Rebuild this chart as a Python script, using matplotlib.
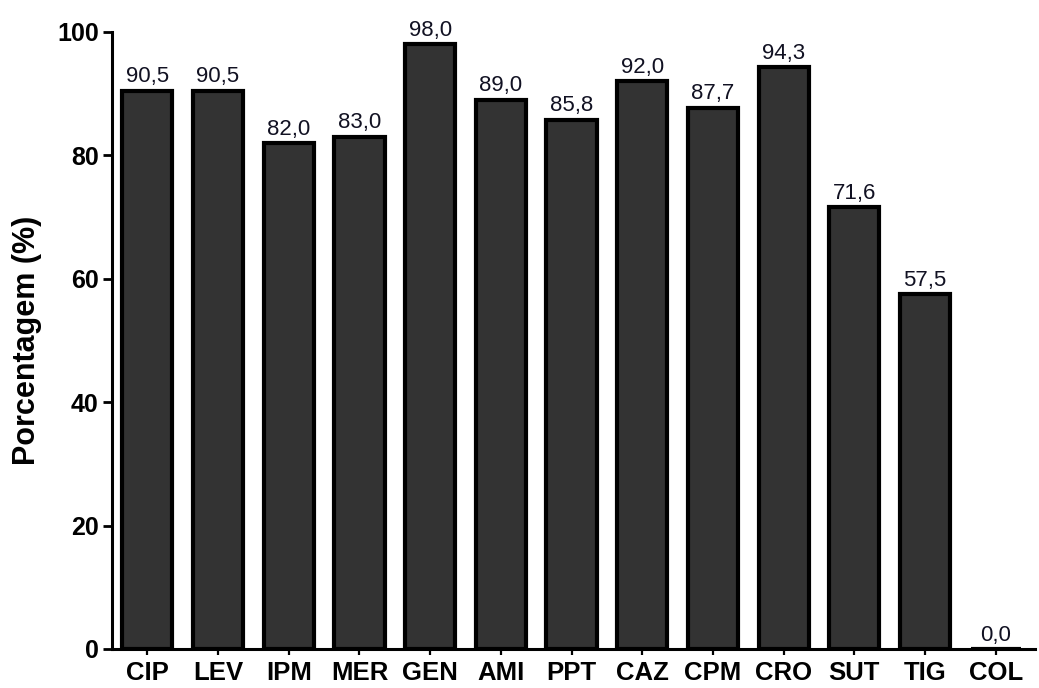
import matplotlib
matplotlib.use('Agg')
from matplotlib import pyplot as plt

categories = ['CIP', 'LEV', 'IPM', 'MER', 'GEN', 'AMI', 'PPT', 'CAZ', 'CPM', 'CRO', 'SUT', 'TIG', 'COL']
values = [90.5, 90.5, 82.0, 83.0, 98.0, 89.0, 85.8, 92.0, 87.7, 94.3, 71.6, 57.5, 0.0]

plt.rcParams['font.family'] = ['Liberation Sans', 'DejaVu Sans']

fig = plt.figure(figsize=(10.39, 6.88), dpi=100)
ax = fig.add_axes([0.1078, 0.0567, 0.888, 0.8968])

x = range(len(categories))
bars = ax.bar(x, values, width=0.71, color='#333333', edgecolor='black', linewidth=3.0)

for xi, v in zip(x, values):
    ax.annotate(f'{v:.1f}'.replace('.', ','), (xi, v), xytext=(0, 2.5),
                textcoords='offset points', ha='center', va='bottom',
                fontsize=16, color='#111122')

ax.set_xlim(-0.5, 12.55)
ax.set_ylim(0, 100)
ax.set_yticks([0, 20, 40, 60, 80, 100])
ax.set_xticks(list(x))
ax.set_xticklabels(categories, fontsize=18.5, fontweight='bold')
for lbl in ax.get_yticklabels():
    lbl.set_fontsize(18)
    lbl.set_fontweight('bold')
ax.set_ylabel('Porcentagem (%)', fontsize=22, fontweight='bold')
ax.yaxis.set_label_coords(-0.076, 0.5)

for side in ['top', 'right']:
    ax.spines[side].set_visible(False)
for side in ['left', 'bottom']:
    ax.spines[side].set_linewidth(2.2)
ax.tick_params(axis='y', width=2.0, length=6.5, pad=3)
ax.tick_params(axis='x', width=1.6, length=4.5, pad=4)

fig.savefig('out.png', dpi=100)
